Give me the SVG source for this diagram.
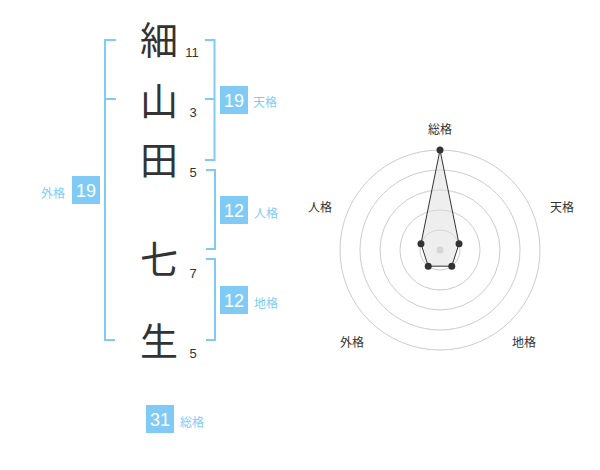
<svg xmlns="http://www.w3.org/2000/svg" width="600" height="470" viewBox="0 0 600 470">
<style>
.ch{font-family:"Noto Sans CJK JP","Noto Sans CJK SC",sans-serif;font-size:38px;fill:#333;text-anchor:middle}
.num{font-family:"Liberation Sans",Arial,sans-serif;font-size:13px;fill:#333;text-anchor:middle}
.br{fill:none;stroke:#80cbf6;stroke-width:2}
.box{fill:#80cbf6}
.bt{font-family:"Liberation Sans",Arial,sans-serif;font-size:18px;fill:#fff;text-anchor:middle}
.lb{font-family:"Noto Sans CJK JP","Noto Sans CJK SC",sans-serif;font-size:12px;fill:#80cbf6}
.rl{font-family:"Noto Sans CJK JP","Noto Sans CJK SC",sans-serif;font-size:12px;fill:#333;text-anchor:middle}
.grid{fill:none;stroke:#ccc;stroke-width:1}
.dot{fill:#333}
</style>
<rect width="600" height="470" fill="#fff"/>
<g id="chars">
<text class="ch" x="159" y="54">細</text>
<text class="ch" x="159" y="115">山</text>
<text class="ch" x="159" y="174">田</text>
<text class="ch" x="159" y="273">七</text>
<text class="ch" x="159" y="355">生</text>
</g>
<g id="strokes">
<text class="num" x="192" y="57">11</text>
<text class="num" x="193" y="117">3</text>
<text class="num" x="193" y="177">5</text>
<text class="num" x="193" y="278">7</text>
<text class="num" x="193" y="358">5</text>
</g>
<g id="connectors">
<path class="br" d="M116,40 H105 V340 H115 M105,99 H116"/>
<path class="br" d="M205,40 H214.5 V160 H205 M205,99 H214.5"/>
<path class="br" d="M206,170 H215 V249 H206"/>
<path class="br" d="M206,259 H215 V340 H206"/>
</g>
<g id="tenkaku">
<rect class="box" x="220" y="86" width="28" height="28"/>
<text class="bt" x="234" y="107">19</text>
<text class="lb" x="253" y="107">天格</text>
</g>
<g id="jinkaku">
<rect class="box" x="220" y="196" width="28" height="28"/>
<text class="bt" x="234" y="217">12</text>
<text class="lb" x="254" y="218">人格</text>
</g>
<g id="chikaku">
<rect class="box" x="220" y="286" width="28" height="28"/>
<text class="bt" x="234" y="307">12</text>
<text class="lb" x="254" y="308">地格</text>
</g>
<g id="gaikaku">
<rect class="box" x="72" y="176" width="28" height="28"/>
<text class="bt" x="86" y="197">19</text>
<text class="lb" x="41" y="198">外格</text>
</g>
<g id="soukaku">
<rect class="box" x="146" y="405" width="28" height="28"/>
<text class="bt" x="160" y="426">31</text>
<text class="lb" x="180" y="427">総格</text>
</g>
<g id="radar">
<circle class="grid" cx="440" cy="250" r="20"/>
<circle class="grid" cx="440" cy="250" r="40"/>
<circle class="grid" cx="440" cy="250" r="60"/>
<circle class="grid" cx="440" cy="250" r="80"/>
<circle class="grid" cx="440" cy="250" r="100"/>
<circle cx="440" cy="250" r="3.5" fill="#ccc"/>
<polygon points="440,150 459.02,243.82 451.76,266.18 428.24,266.18 420.98,243.82" fill="#ddd" fill-opacity="0.5" stroke="#333" stroke-width="1"/>
<circle class="dot" cx="440" cy="150" r="3.5"/>
<circle class="dot" cx="459.02" cy="243.82" r="3.5"/>
<circle class="dot" cx="451.76" cy="266.18" r="3.5"/>
<circle class="dot" cx="428.24" cy="266.18" r="3.5"/>
<circle class="dot" cx="420.98" cy="243.82" r="3.5"/>
<text class="rl" x="440" y="134">総格</text>
<text class="rl" x="562" y="212">天格</text>
<text class="rl" x="524" y="347">地格</text>
<text class="rl" x="352" y="347">外格</text>
<text class="rl" x="320" y="212">人格</text>
</g>
</svg>
